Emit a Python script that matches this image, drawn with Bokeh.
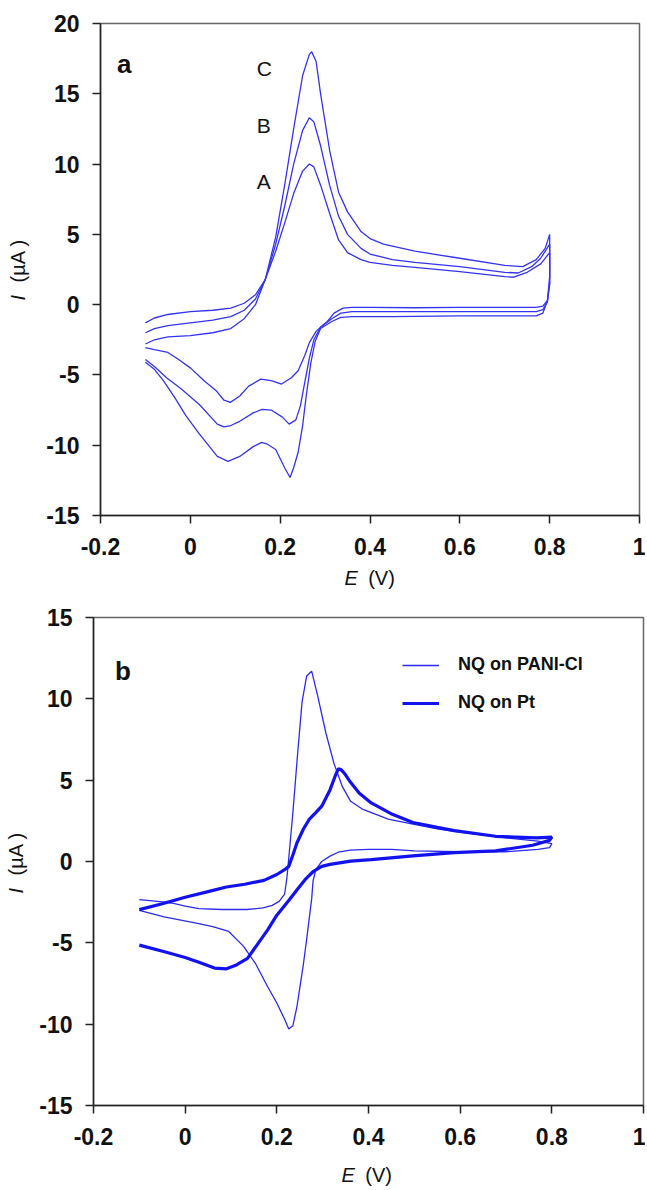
import math
from bokeh.plotting import figure
from bokeh.layouts import column
from bokeh.models import (FixedTicker, CustomJSTickFormatter, Label, Legend,
                          LegendItem, Range1d)
from bokeh.core.properties import value
from bokeh.embed import file_html
from bokeh.resources import INLINE

# ---------------- data: panel a (three CVs A, B, C) ----------------
A_E = [-0.10, -0.08, -0.05, 0.00, 0.05, 0.09, 0.12, 0.145, 0.167, 0.19, 0.21, 0.23, 0.25, 0.265,
       0.275, 0.29, 0.31, 0.33, 0.35, 0.38, 0.40, 0.45, 0.50, 0.60, 0.70, 0.72, 0.75, 0.78, 0.80,
       0.80, 0.795, 0.785, 0.77, 0.70, 0.60, 0.50, 0.40, 0.36, 0.34, 0.32, 0.305, 0.29, 0.28,
       0.265, 0.255, 0.24, 0.225, 0.203, 0.18, 0.157, 0.13, 0.11, 0.089, 0.075, 0.057, 0.03,
       0.00, -0.026, -0.05, -0.08, -0.10]
A_I = [-1.30, -0.95, -0.70, -0.50, -0.40, -0.25, 0.10, 0.70, 1.80, 3.8, 5.8, 7.9, 9.5, 10.0,
       9.8, 8.5, 6.5, 4.6, 3.7, 3.2, 3.0, 2.8, 2.65, 2.35, 2.0, 1.95, 2.3, 2.9, 3.7,
       1.5, 0.3, -0.1, -0.2, -0.2, -0.2, -0.22, -0.2, -0.2, -0.25, -0.6, -1.2, -1.6, -1.9,
       -2.7, -3.6, -4.7, -5.2, -5.65, -5.4, -5.3, -5.8, -6.5, -6.95, -6.8, -6.1, -5.4,
       -4.5, -3.9, -3.4, -3.2, -3.06]

B_E = [-0.10, -0.08, -0.05, 0.00, 0.05, 0.09, 0.12, 0.145, 0.167, 0.19, 0.21, 0.23, 0.25, 0.265,
       0.275, 0.29, 0.31, 0.33, 0.35, 0.38, 0.40, 0.45, 0.50, 0.60, 0.70, 0.73, 0.76, 0.78, 0.80,
       0.80, 0.795, 0.785, 0.77, 0.60, 0.45, 0.36, 0.335, 0.315, 0.29, 0.275, 0.265, 0.255,
       0.245, 0.235, 0.22, 0.205, 0.18, 0.16, 0.14, 0.11, 0.09, 0.075, 0.06, 0.02, -0.02,
       -0.053, -0.08, -0.10]
B_I = [-2.0, -1.7, -1.5, -1.3, -1.1, -0.85, -0.4, 0.4, 1.8, 4.3, 7.0, 10.0, 12.4, 13.3,
       13.0, 11.3, 8.5, 6.3, 5.0, 4.0, 3.6, 3.2, 3.0, 2.7, 2.3, 2.25, 2.7, 3.3, 4.3,
       1.5, 0.2, -0.35, -0.5, -0.5, -0.5, -0.5, -0.6, -1.0, -1.6, -2.5, -3.8, -5.5,
       -7.2, -8.2, -8.5, -8.0, -7.5, -7.45, -7.7, -8.3, -8.6, -8.7, -8.5, -7.1, -6.0,
       -5.2, -4.4, -3.9]

C_E = [-0.10, -0.08, -0.05, 0.00, 0.05, 0.09, 0.12, 0.145, 0.167, 0.19, 0.21, 0.23, 0.25, 0.265,
       0.27, 0.28, 0.29, 0.31, 0.33, 0.35, 0.38, 0.40, 0.43, 0.50, 0.60, 0.70, 0.74, 0.77, 0.79,
       0.80, 0.80, 0.795, 0.785, 0.77, 0.60, 0.45, 0.36, 0.335, 0.315, 0.29, 0.278, 0.268,
       0.258, 0.25, 0.24, 0.23, 0.222, 0.21, 0.19, 0.17, 0.159, 0.14, 0.11, 0.084, 0.06, 0.04,
       0.02, -0.01, -0.035, -0.06, -0.08, -0.10]
C_I = [-2.8, -2.5, -2.3, -2.2, -2.0, -1.7, -1.0, 0.0, 1.8, 4.8, 8.5, 12.5, 16.3, 17.8,
       18.0, 17.3, 15.0, 11.0, 8.0, 6.6, 5.2, 4.7, 4.3, 3.8, 3.3, 2.8, 2.7, 3.2, 4.0,
       5.0, 2.0, 0.3, -0.6, -0.8, -0.8, -0.85, -0.85, -0.9, -1.2, -1.7, -2.6, -4.2,
       -6.5, -8.6, -10.5, -11.6, -12.3, -11.6, -10.3, -9.9, -9.8, -10.1, -10.8, -11.15, -10.8, -10.0,
       -9.2, -7.9, -6.6, -5.4, -4.6, -4.1]

# ---------------- data: panel b ----------------
PANI_E = [-0.10, -0.06, -0.03, 0.00, 0.03, 0.08, 0.135, 0.17, 0.19, 0.205, 0.217, 0.222, 0.226,
          0.235, 0.245, 0.255, 0.265, 0.276, 0.289, 0.307, 0.325, 0.343, 0.361, 0.388, 0.443,
          0.497, 0.55, 0.60, 0.70, 0.77, 0.80,
          0.795, 0.77, 0.70, 0.60, 0.50, 0.45, 0.40, 0.36, 0.334, 0.316, 0.298, 0.285, 0.279,
          0.276, 0.272, 0.265, 0.258, 0.25, 0.244, 0.235, 0.226, 0.217, 0.20, 0.18, 0.154,
          0.127, 0.095, 0.06, 0.027, -0.046, -0.10]
PANI_I = [-2.35, -2.45, -2.55, -2.75, -2.9, -2.95, -2.95, -2.85, -2.7, -2.45, -2.0, -1.0, 0.2,
          3.0, 6.5, 9.8, 11.4, 11.7, 10.2, 7.9, 6.0, 4.6, 3.7, 3.2, 2.6,
          2.3, 2.0, 1.8, 1.45, 1.25, 1.1,
          0.85, 0.75, 0.6, 0.6, 0.65, 0.75, 0.75, 0.7, 0.57, 0.33, 0.0, -0.5, -1.2,
          -2.3, -3.2, -4.8, -6.3, -7.8, -8.9, -10.1, -10.3, -9.7, -8.7, -7.7, -6.3,
          -5.2, -4.3, -4.0, -3.8, -3.4, -3.0]

PT_E = [-0.10, -0.05, 0.00, 0.05, 0.09, 0.13, 0.172, 0.20, 0.217, 0.226, 0.235, 0.244, 0.258,
        0.271, 0.285, 0.298, 0.316, 0.328, 0.334, 0.34, 0.348, 0.36, 0.38, 0.406, 0.452, 0.497,
        0.55, 0.587, 0.677, 0.767, 0.80,
        0.795, 0.758, 0.677, 0.587, 0.497, 0.406, 0.361, 0.316, 0.298, 0.28, 0.262, 0.245,
        0.226, 0.20, 0.18, 0.16, 0.136, 0.109, 0.09, 0.064, 0.03, 0.00, -0.045, -0.10]
PT_I = [-2.96, -2.6, -2.2, -1.85, -1.57, -1.4, -1.16, -0.8, -0.5, -0.3, 0.4, 1.15, 2.0,
        2.6, 3.0, 3.4, 4.4, 5.3, 5.7, 5.65, 5.4, 4.9, 4.2, 3.6, 2.9, 2.4,
        2.1, 1.9, 1.55, 1.45, 1.5,
        1.3, 1.0, 0.65, 0.55, 0.35, 0.12, 0.02, -0.18, -0.3, -0.6, -1.1, -1.7,
        -2.4, -3.3, -4.2, -5.0, -5.96, -6.4, -6.6, -6.55, -6.2, -5.9, -5.55, -5.14]

X_TICKS = [-0.2, 0.0, 0.2, 0.4, 0.6, 0.8, 1.0]
YA_TICKS = [-15, -10, -5, 0, 5, 10, 15, 20]
YB_TICKS = [-15, -10, -5, 0, 5, 10, 15]
CURVE_LABELS = ["A", "B", "C"]
CURVE_LABEL_Y = [8.75, 12.76, 16.77]
LEGEND_LABELS = ["NQ on PANI-Cl", "NQ on Pt"]

LINE_COL = "#3434f0"
FONT = "Liberation Sans"
TXT = "#111111"

fmt_code = "return (Math.round(tick*10)/10).toString();"


def style(p, yticks):
    p.xaxis.ticker = FixedTicker(ticks=X_TICKS)
    p.yaxis.ticker = FixedTicker(ticks=yticks)
    p.xaxis.formatter = CustomJSTickFormatter(code=fmt_code)
    p.yaxis.formatter = CustomJSTickFormatter(code=fmt_code)
    p.xgrid.visible = False
    p.ygrid.visible = False
    for ax in (p.xaxis[0], p.yaxis[0]):
        ax.axis_line_color = "#222222"
        ax.axis_line_width = 1.5
        ax.major_tick_line_color = "#222222"
        ax.major_tick_line_width = 1.5
        ax.major_tick_out = 8
        ax.major_tick_in = 0
        ax.minor_tick_line_color = None
        ax.major_label_text_font = FONT
        ax.major_label_text_font_size = "23px"
        ax.major_label_text_font_style = "bold"
        ax.major_label_text_color = TXT
    p.xaxis.major_label_standoff = 14
    p.yaxis.major_label_standoff = 13
    p.outline_line_color = "#666666"
    p.outline_line_width = 1.5
    p.background_fill_color = "white"
    p.border_fill_color = "white"


def add_titles(p, ex, ey, ix, iy1, iy2):
    # axis titles: italic symbol + upright unit (drawn unclipped at overlay level)
    p.text(x=[ex], y=[ey], text=["E"], text_align="right", text_baseline="middle",
           text_font=value(FONT), text_font_size="20px", text_font_style="italic",
           text_color=TXT, level="overlay")
    p.text(x=[ex + 0.023], y=[ey], text=["(V)"], text_align="left", text_baseline="middle",
           text_font=value(FONT), text_font_size="20px", text_color=TXT, level="overlay")
    p.text(x=[ix], y=[iy1], text=["I"], angle=math.pi / 2, text_align="left",
           text_baseline="middle", text_font=value(FONT), text_font_size="20px",
           text_font_style="italic", text_color=TXT, level="overlay")
    p.text(x=[ix], y=[iy2], text=["(\u00b5A )"], angle=math.pi / 2, text_align="left",
           text_baseline="middle", text_font=value(FONT), text_font_size="20px",
           text_color=TXT, level="overlay")


# ---------------- panel a ----------------
p1 = figure(width=645, height=600, output_backend="svg", toolbar_location=None,
            x_range=Range1d(-0.2, 1.0), y_range=Range1d(-15, 20),
            min_border_left=100, min_border_right=6, min_border_top=23, min_border_bottom=85,
            frame_align=False)
style(p1, YA_TICKS)
for E, I in ((A_E, A_I), (B_E, B_I), (C_E, C_I)):
    p1.line(E, I, line_color=LINE_COL, line_width=1.3)
for lab, ly in zip(CURVE_LABELS, CURVE_LABEL_Y):
    p1.add_layout(Label(x=0.148, y=ly, text=lab, text_align="left", text_baseline="alphabetic",
                        text_font=FONT, text_font_size="21px", text_color=TXT))
p1.add_layout(Label(x=-0.163, y=17.1, text="a", text_align="left", text_baseline="alphabetic",
                    text_font=FONT, text_font_size="26px", text_font_style="bold",
                    text_color=TXT))
add_titles(p1, 0.373, -19.48, -0.383, 0.29, 1.58)

# ---------------- panel b ----------------
p2 = figure(width=645, height=588, output_backend="svg", toolbar_location=None,
            x_range=Range1d(-0.2, 1.0), y_range=Range1d(-15, 15),
            min_border_left=93, min_border_right=2, min_border_top=17, min_border_bottom=83,
            frame_align=False)
style(p2, YB_TICKS)
r_thin = p2.line(PANI_E, PANI_I, line_color="#2a2af2", line_width=1.3)
r_thick = p2.line(PT_E, PT_I, line_color="#1212ee", line_width=3.2)
p2.add_layout(Label(x=-0.153, y=11.72, text="b", text_align="left", text_baseline="alphabetic",
                    text_font=FONT, text_font_size="26px", text_font_style="bold",
                    text_color=TXT))
add_titles(p2, 0.370, -19.30, -0.370, -1.97, -0.86)

legend = Legend(items=[LegendItem(label=LEGEND_LABELS[0], renderers=[r_thin]),
                       LegendItem(label=LEGEND_LABELS[1], renderers=[r_thick])],
                location=(309, 392), orientation="vertical")
legend.glyph_width = 37
legend.glyph_height = 20
legend.label_height = 20
legend.label_standoff = 19
legend.spacing = 17
legend.padding = 0
legend.margin = 0
legend.border_line_color = None
legend.background_fill_alpha = 0
legend.label_text_font = FONT
legend.label_text_font_size = "18px"
legend.label_text_font_style = "bold"
legend.label_text_color = TXT
p2.add_layout(legend)

layout = column(p1, p2, spacing=0)
open("out.html", "w").write(file_html(layout, INLINE))
